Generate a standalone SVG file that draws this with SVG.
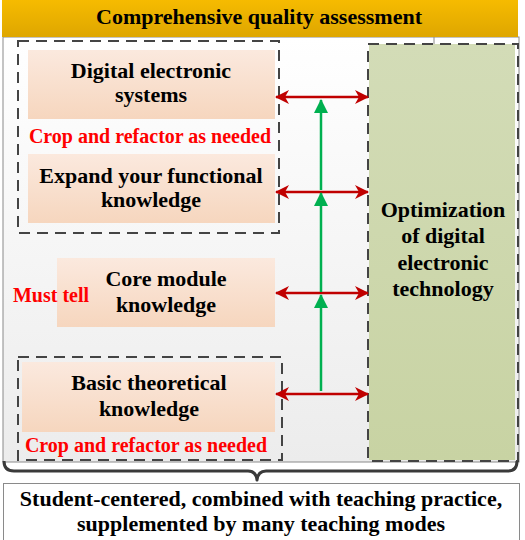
<svg xmlns="http://www.w3.org/2000/svg" width="525" height="540" viewBox="0 0 525 540">
  <defs>
    <linearGradient id="gTop" x1="0" y1="0" x2="0" y2="1">
      <stop offset="0" stop-color="#f6bb00"/>
      <stop offset="1" stop-color="#dea600"/>
    </linearGradient>
    <linearGradient id="gBg" x1="0" y1="0" x2="0" y2="1">
      <stop offset="0" stop-color="#ffffff"/>
      <stop offset="1" stop-color="#ececec"/>
    </linearGradient>
    <linearGradient id="gPeach" x1="0" y1="0" x2="0" y2="1">
      <stop offset="0" stop-color="#fbe9de"/>
      <stop offset="1" stop-color="#f6d6be"/>
    </linearGradient>
    <linearGradient id="gGreen" x1="0" y1="0" x2="0" y2="1">
      <stop offset="0" stop-color="#d3dcb7"/>
      <stop offset="1" stop-color="#c8d3a3"/>
    </linearGradient>
    <marker id="redHead" viewBox="0 0 14 14" refX="13" refY="7" markerWidth="14" markerHeight="14" markerUnits="userSpaceOnUse" orient="auto-start-reverse">
      <path d="M0,0 L14,7 L0,14 L4,7 Z" fill="#c00000"/>
    </marker>
    <marker id="greenHead" viewBox="0 0 14 14" refX="13" refY="7" markerWidth="14" markerHeight="14" markerUnits="userSpaceOnUse" orient="auto">
      <path d="M0,0 L14,7 L0,14 Z" fill="#00b050"/>
    </marker>
  </defs>
  <style>
    .title { font-family: "Liberation Serif", "Times New Roman", serif; font-weight: bold; font-size: 22px; fill: #000; text-anchor: middle; }
    .note { font-family: "Liberation Serif", "Times New Roman", serif; font-weight: bold; font-size: 20px; fill: #ff0000; text-anchor: middle; }
    .node { fill: url(#gPeach); }
    .dash { fill: none; stroke: #444; stroke-width: 2; stroke-dasharray: 11 7; }
    .red { stroke: #c00000; stroke-width: 2.5; fill: none; marker-start: url(#redHead); marker-end: url(#redHead); }
    .green { stroke: #00b050; stroke-width: 2.5; fill: none; marker-end: url(#greenHead); }
  </style>

  <rect width="525" height="540" fill="#ffffff"/>

  <!-- outer panel -->
  <g id="panel">
    <rect x="3" y="37" width="516" height="425" fill="url(#gBg)" stroke="#8a8a8a" stroke-width="1"/>
    <line x1="434" y1="37" x2="434" y2="45" stroke="#8a8a8a" stroke-width="1"/>
    <line x1="434" y1="455" x2="434" y2="462" stroke="#8a8a8a" stroke-width="1"/>
  </g>

  <!-- header bar -->
  <g id="header">
    <rect x="2" y="0" width="516" height="37" fill="url(#gTop)"/>
    <text class="title" x="259" y="24">Comprehensive quality assessment</text>
  </g>

  <!-- right column -->
  <g id="optimization">
    <rect x="369" y="44" width="146" height="416" fill="url(#gGreen)"/>
    <rect x="368" y="44" width="150" height="417" class="dash"/>
    <text class="title" x="443" y="217">Optimization</text>
    <text class="title" x="443" y="243">of digital</text>
    <text class="title" x="443" y="270">electronic</text>
    <text class="title" x="443" y="296">technology</text>
  </g>

  <!-- upper dashed group -->
  <g id="group-upper">
    <rect x="18" y="41" width="261" height="192" class="dash"/>
    <text class="note" x="150" y="143">Crop and refactor as needed</text>
  </g>

  <g id="digital-systems">
    <rect x="28" y="50" width="247" height="69" class="node"/>
    <text class="title" x="151" y="78">Digital electronic</text>
    <text class="title" x="151" y="102">systems</text>
  </g>

  <g id="functional-knowledge">
    <rect x="28" y="154" width="247" height="69" class="node"/>
    <text class="title" x="151" y="183">Expand your functional</text>
    <text class="title" x="151" y="207">knowledge</text>
  </g>

  <g id="core-module">
    <rect x="57" y="258" width="218" height="69" class="node"/>
    <text class="title" x="166" y="286">Core module</text>
    <text class="title" x="166" y="312">knowledge</text>
    <text class="note" x="51" y="302">Must tell</text>
  </g>

  <!-- lower dashed group -->
  <g id="group-lower">
    <rect x="18" y="357" width="264" height="103" class="dash"/>
  </g>

  <g id="basic-theory">
    <rect x="22" y="362" width="253" height="70" class="node"/>
    <text class="title" x="149" y="390">Basic theoretical</text>
    <text class="title" x="149" y="416">knowledge</text>
    <text class="note" x="146" y="452">Crop and refactor as needed</text>
  </g>

  <!-- connectors -->
  <g id="connectors">
    <line class="red" x1="276" y1="97" x2="368" y2="97"/>
    <line class="red" x1="276" y1="192" x2="368" y2="192"/>
    <line class="red" x1="276" y1="293" x2="368" y2="293"/>
    <line class="red" x1="276" y1="394" x2="368" y2="394"/>
    <line class="green" x1="321" y1="190" x2="321" y2="100"/>
    <line class="green" x1="321" y1="292" x2="321" y2="193"/>
    <line class="green" x1="321" y1="391" x2="321" y2="295"/>
  </g>

  <!-- brace -->
  <g id="brace">
    <path d="M4,461 Q4,471 14,471 L248,471 Q256,471 257,480 Q258,471 266,471 L508,471 Q517,471 517,461" fill="none" stroke="#3a3a3a" stroke-width="3" stroke-linejoin="round"/>
  </g>

  <!-- footer -->
  <g id="footer">
    <rect x="3.5" y="483.5" width="516" height="58" fill="#ffffff" stroke="#8a8a8a" stroke-width="1"/>
    <text class="title" x="261" y="506">Student-centered, combined with teaching practice,</text>
    <text class="title" x="261" y="531">supplemented by many teaching modes</text>
  </g>
</svg>
